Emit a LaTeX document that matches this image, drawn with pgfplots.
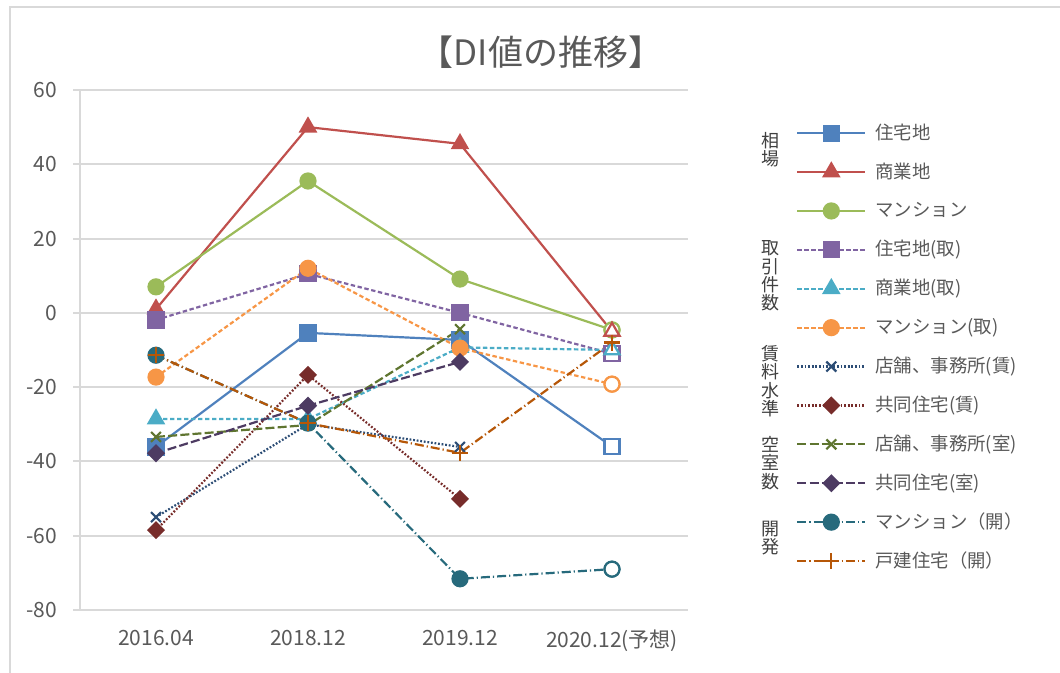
\documentclass[border=0pt]{standalone}
\usepackage{pgfplots}
\pgfplotsset{compat=1.18}
\usepackage{fontspec}
\setmainfont{Noto Sans CJK JP}
\definecolor{c1}{HTML}{4F81BD}
\definecolor{c2}{HTML}{C0504D}
\definecolor{c3}{HTML}{9BBB59}
\definecolor{c4}{HTML}{8064A2}
\definecolor{c5}{HTML}{4BACC6}
\definecolor{c6}{HTML}{F79646}
\definecolor{c7}{HTML}{2C4D75}
\definecolor{c8}{HTML}{772C2A}
\definecolor{c9}{HTML}{5F7530}
\definecolor{c10}{HTML}{4D3B62}
\definecolor{c11}{HTML}{276A7C}
\definecolor{c12}{HTML}{B65708}
\definecolor{tgray}{HTML}{595959}
\definecolor{gridgray}{HTML}{D9D9D9}
\definecolor{lgray}{HTML}{404040}
\begin{document}
\begin{tikzpicture}
% 1 px = 0.5pt ; pixel (x, y from top) -> (x/2 pt, (673-y)/2 pt)
\useasboundingbox (0pt,0pt) rectangle (530pt,336.5pt);
\draw[gridgray, line width=1pt] (5pt,0pt) -- (5pt,333pt) -- (530pt,333pt);
\node[font=\fontsize{17.5}{18}\selectfont, text=tgray] at (270.5pt,310.5pt) {【DI値の推移】};
\begin{axis}[
  at={(40pt,31.5pt)}, anchor=south west,
  scale only axis, width=304pt, height=260pt,
  xmin=-0.5, xmax=3.5, ymin=-80, ymax=60,
  ytick={-80,-60,-40,-20,0,20,40,60},
  xtick={0,1,2,3},
  xticklabels={2016.04,2018.12,2019.12,2020.12(予想)},
  ymajorgrids, grid style={gridgray, line width=1pt},
  axis lines=left, axis line style={gridgray, line width=1pt, -},
  xtick style={draw=none},
  ytick style={gridgray, line width=1pt},
  tick align=outside, major tick length=3.5pt,
  /pgf/number format/assume math mode=true,
  ticklabel style={font=\fontsize{10.5}{11}\selectfont, text=tgray},
  yticklabel style={xshift=-4.5pt},
  xticklabel style={yshift=-3pt},
  every axis plot/.append style={line width=1.1pt},
  legend cell align=left,
  legend style={at={(1.178,0.942)}, anchor=north west, draw=none, fill=none,
    inner sep=0pt, outer sep=0pt,
    font=\fontsize{9.2}{9.2}\selectfont, text=tgray, row sep=6.45pt,
    nodes={inner sep=2pt, text height=7.5pt, text depth=1.5pt},
    /tikz/every odd column/.append style={column sep=2.5pt}},
  legend image code/.code={\draw[mark repeat=2,mark phase=2,#1] plot coordinates {(0pt,0pt)(17pt,0pt)(34pt,0pt)};},
  clip=false,
]
% 1 住宅地
\addplot[c1, mark=square*, mark size=3.75pt, mark options={solid, fill=c1}]
  coordinates {(0,-36.1)(1,-5.4)(2,-7.3)(3,-36)};
\addlegendentry{住宅地}
% 2 商業地
\addplot[c2, mark=triangle*, mark size=4.3pt, mark options={solid, fill=c2}]
  coordinates {(0,1)(1,50)(2,45.5)(3,-5)};
\addlegendentry{商業地}
% 3 マンション
\addplot[c3, mark=*, mark size=3.75pt, mark options={solid, fill=c3}]
  coordinates {(0,7)(1,35.5)(2,9.1)(3,-4.6)};
\addlegendentry{マンション}
% 4 住宅地(取)
\addplot[c4, dash pattern=on 2.2pt off 1.3pt, mark=square*, mark size=3.75pt, mark options={solid, fill=c4}]
  coordinates {(0,-1.9)(1,10.5)(2,0)(3,-11)};
\addlegendentry{住宅地(取)}
% 5 商業地(取)
\addplot[c5, dash pattern=on 2.2pt off 1.3pt, mark=triangle*, mark size=4.3pt, mark options={solid, fill=c5}]
  coordinates {(0,-28.6)(1,-28.6)(2,-9.3)(3,-10)};
\addlegendentry{商業地(取)}
% 6 マンション(取)
\addplot[c6, dash pattern=on 2.2pt off 1.3pt, mark=*, mark size=3.75pt, mark options={solid, fill=c6}]
  coordinates {(0,-17.3)(1,12)(2,-9.5)(3,-19.2)};
\addlegendentry{マンション(取)}
% 7 店舗、事務所(賃)
\addplot[c7, dash pattern=on 0.9pt off 0.9pt, mark=x, mark size=3.5pt, mark options={solid}]
  coordinates {(0,-55)(1,-30)(2,-36.1)};
\addlegendentry{店舗、事務所(賃)}
% 8 共同住宅(賃)
\addplot[c8, dash pattern=on 0.9pt off 0.9pt, mark=square*, mark size=2.65pt, mark options={solid, fill=c8, rotate=45}]
  coordinates {(0,-58.5)(1,-16.7)(2,-50.1)};
\addlegendentry{共同住宅(賃)}
% 9 店舗、事務所(室)
\addplot[c9, dash pattern=on 4.5pt off 1.6pt, mark=x, mark size=3.5pt, mark options={solid}]
  coordinates {(0,-33.4)(1,-30.2)(2,-4.4)};
\addlegendentry{店舗、事務所(室)}
% 10 共同住宅(室)
\addplot[c10, dash pattern=on 4.5pt off 1.6pt, mark=square*, mark size=2.65pt, mark options={solid, fill=c10, rotate=45}]
  coordinates {(0,-37.8)(1,-25)(2,-13.2)};
\addlegendentry{共同住宅(室)}
% 11 マンション（開）
\addplot[c11, dash pattern=on 4.5pt off 1.5pt on 0.6pt off 1.5pt, mark=*, mark size=3.75pt, mark options={solid, fill=c11}]
  coordinates {(0,-11.4)(1,-29.7)(2,-71.6)(3,-69)};
\addlegendentry{マンション（開）}
% 12 戸建住宅（開）
\addplot[c12, dash pattern=on 4.5pt off 1.5pt on 0.6pt off 1.5pt, mark=+, mark size=4pt, mark options={solid}]
  coordinates {(0,-11.4)(1,-29.7)(2,-37.7)(3,-8)};
\addlegendentry{戸建住宅（開）}
% forecast (hollow) markers drawn over the filled ones
\addplot[forget plot, only marks, mark=square*, mark size=3.75pt, mark options={draw=c1, fill=white, line width=1.1pt}] coordinates {(3,-36)};
\addplot[forget plot, only marks, mark=*, mark size=3.75pt, mark options={draw=c3, fill=white, line width=1.1pt}] coordinates {(3,-4.6)};
\addplot[forget plot, only marks, mark=triangle*, mark size=4.3pt, mark options={draw=c2, fill=white, line width=1.1pt}] coordinates {(3,-5)};
\addplot[forget plot, only marks, mark=square*, mark size=3.75pt, mark options={draw=c4, fill=white, line width=1.1pt}] coordinates {(3,-11)};
\addplot[forget plot, only marks, mark=triangle*, mark size=4.3pt, mark options={draw=c5, fill=white, line width=1.1pt}] coordinates {(3,-10)};
\addplot[forget plot, only marks, mark=*, mark size=3.75pt, mark options={draw=c6, fill=white, line width=1.1pt}] coordinates {(3,-19.2)};
\addplot[forget plot, only marks, mark=*, mark size=3.75pt, mark options={draw=c11, fill=white, line width=1.1pt}] coordinates {(3,-69)};
\addplot[forget plot, only marks, mark=+, mark size=4pt, mark options={draw=c12, line width=1.1pt}] coordinates {(3,-8)};
\end{axis}
\begin{scope}[every node/.style={font=\fontsize{9}{9.2}\selectfont, align=center, text=lgray}]
\node at (385pt,261.5pt) {相\\場};
\node at (385pt,198.5pt) {取\\引\\件\\数};
\node at (385pt,146pt) {賃\\料\\水\\準};
\node at (385pt,105pt) {空\\室\\数};
\node at (385pt,67.5pt) {開\\発};
\end{scope}
\end{tikzpicture}
\end{document}
